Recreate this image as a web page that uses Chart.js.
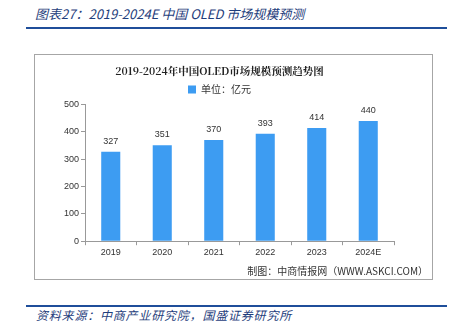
<!DOCTYPE html>
<html>
<head>
<meta charset="utf-8">
<script src="https://cdn.jsdelivr.net/npm/chart.js@4"></script>
<style>
  body { margin: 0; width: 454px; height: 322px; background: #fff; position: relative; overflow: hidden; font-family: "Noto Sans CJK SC", sans-serif; }
  .head { position: absolute; left: 35px; top: 4px; font-size: 13px; font-style: italic; color: #1f3e7c; }
  .rule { position: absolute; left: 26px; width: 421px; height: 2px; background: #1f4e9a; }
  .box { position: absolute; left: 34px; top: 54px; width: 397px; height: 224px; border: 1px solid #a6a6a6; }
  .foot { position: absolute; left: 36px; top: 306px; font-size: 12px; letter-spacing: 0.8px; font-style: italic; color: #1f3e7c; }
  canvas { position: absolute; left: 0; top: 0; }
</style>
</head>
<body>
<div class="head">图表27：2019-2024E 中国 OLED 市场规模预测</div>
<div class="rule" style="top:27px"></div>
<div class="box"><canvas id="oledChart" width="397" height="224"></canvas></div>
<div class="rule" style="top:305px"></div>
<div class="foot">资料来源：中商产业研究院，国盛证券研究所</div>
<script>
const years = ["2019", "2020", "2021", "2022", "2023", "2024E"];
const marketSize = [327, 351, 370, 393, 414, 440];
const yTicks = [0, 50, 100, 150, 200, 250, 300, 350, 400, 450, 500];

const ctx = document.getElementById("oledChart").getContext("2d");

const barLabels = {
  id: "barLabels",
  afterDatasetsDraw(chart) {
    const c = chart.ctx;
    const meta = chart.getDatasetMeta(0);
    c.save();
    c.font = "9px 'Liberation Sans'";
    c.fillStyle = "#333";
    c.textAlign = "center";
    c.textBaseline = "bottom";
    meta.data.forEach((bar, i) => {
      c.fillText(marketSize[i], bar.x, bar.y - 6);
    });
    c.restore();
  },
};

const sourceNote = {
  id: "sourceNote",
  afterDraw(chart) {
    const c = chart.ctx;
    c.save();
    c.font = "10px 'Noto Sans CJK SC'";
    c.fillStyle = "#333";
    c.textAlign = "right";
    c.textBaseline = "middle";
    c.fillText("制图：中商情报网（WWW.ASKCI.COM）", 393, 216);
    c.restore();
  },
};

new Chart(ctx, {
  type: "bar",
  data: {
    labels: years,
    datasets: [
      {
        label: "单位：亿元",
        data: marketSize,
        backgroundColor: "#3d9cf2",
        categoryPercentage: 0.74,
        barPercentage: 0.5,
      },
    ],
  },
  options: {
    responsive: false,
    animation: false,
    layout: {
      padding: { top: 10, right: 38, bottom: 19, left: 10 },
    },
    plugins: {
      title: {
        display: true,
        text: "2019-2024年中国OLED市场规模预测趋势图",
        color: "#222",
        font: { family: "'Noto Serif CJK SC', 'Noto Sans CJK SC'", size: 10.5, weight: "bold" },
        padding: { top: 0, bottom: 1 },
      },
      legend: {
        labels: {
          boxWidth: 8,
          boxHeight: 8,
          color: "#333",
          font: { family: "'Noto Sans CJK SC'", size: 10 },
          padding: 6,
        },
      },
      tooltip: { enabled: false },
    },
    scales: {
      x: {
        grid: {
          display: true,
          drawOnChartArea: false,
          offset: true,
          tickLength: 4,
          color: "#999",
        },
        border: { color: "#999" },
        ticks: {
          color: "#333",
          font: { family: "'Liberation Sans'", size: 9 },
          padding: 2,
        },
      },
      y: {
        min: 0,
        max: 500,
        afterBuildTicks: (axis) => {
          axis.ticks = yTicks.map((v) => ({ value: v }));
        },
        afterFit: (axis) => {
          axis.width = 40;
        },
        grid: {
          display: true,
          drawOnChartArea: false,
          tickLength: 4,
          color: "#999",
        },
        border: { color: "#999" },
        ticks: {
          color: "#333",
          font: { family: "'Liberation Sans'", size: 9 },
          padding: 2,
        },
      },
    },
  },
  plugins: [barLabels, sourceNote],
});
</script>
</body>
</html>
